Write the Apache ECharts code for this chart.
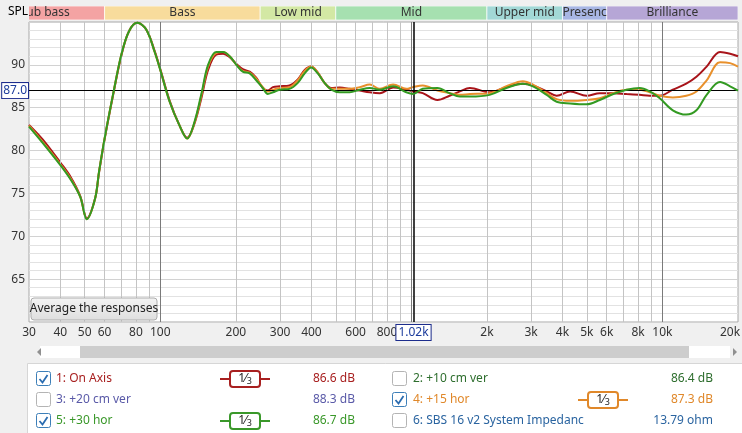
<!DOCTYPE html>
<html><head><meta charset="utf-8">
<script src="https://cdn.jsdelivr.net/npm/echarts@6/dist/echarts.min.js"></script>
<style>html,body{margin:0;padding:0;background:#f0f0f0;}#c{width:742px;height:433px;}</style>
</head><body><div id="c"></div>
<script>
// ---- data ----
const freqs = [30,34,40,44,48,51,55,57,60,65,70,75,81,88,95,100,109,119,128,137,146,155,167,178,189,201,213,227,241,256,268,281,299,327,353,376,399,424,451,480,518,568,623,683,749,846,955,1015,1110,1270,1420,1560,1710,2050,2390,2780,3050,3460,3790,4290,4990,5630,6370,7200,8120,8900,9760,11000,12440,13660,15000,16960,18600,20000];
const onAxis = [83.0,81.3,78.6,76.9,74.7,72.1,74.4,77.4,81.3,86.6,91.1,93.9,94.9,94.1,91.6,89.5,85.8,83.0,81.5,83.2,86.2,89.4,91.2,91.3,90.9,90.1,89.5,89.2,88.5,87.3,87.0,87.4,87.5,87.6,88.3,89.4,89.8,89.1,87.9,87.3,87.35,87.2,87.0,86.8,86.7,87.35,87.1,86.9,86.7,85.9,86.4,86.9,87.3,86.8,87.4,87.8,87.6,86.9,86.4,86.9,86.4,86.7,86.7,86.6,86.5,86.4,86.4,87.1,87.8,88.6,89.8,91.5,91.3,91.0];
const hor15 = [82.9,81.0,78.4,76.7,74.6,72.0,74.4,77.5,81.4,86.7,91.2,93.9,94.9,94.1,91.5,89.4,85.7,83.0,81.4,83.3,86.5,89.8,91.4,91.5,91.0,90.0,89.3,89.1,88.4,87.4,86.9,87.1,87.3,87.4,88.2,89.3,89.8,89.1,87.9,87.2,87.2,87.2,87.4,87.7,87.2,87.7,87.2,87.4,87.6,87.0,86.7,86.5,86.6,86.7,87.5,88.1,87.7,86.7,86.0,85.8,85.9,86.1,86.7,87.1,87.1,86.8,86.4,86.2,86.4,86.9,88.2,90.3,90.2,89.8];
const hor30 = [82.8,80.9,78.3,76.6,74.6,72.0,74.4,77.5,81.4,86.7,91.2,93.9,94.9,94.1,91.5,89.4,85.7,83.0,81.4,83.4,86.7,90.0,91.5,91.5,91.0,90.0,89.2,89.0,88.2,87.3,86.6,86.8,87.1,87.2,87.9,89.0,89.7,89.0,87.9,87.1,86.8,86.8,87.1,87.3,87.1,87.5,86.8,86.6,87.2,87.3,86.7,86.3,86.3,86.5,87.3,87.8,87.5,86.5,85.7,85.5,85.4,85.9,86.6,87.1,87.3,86.9,86.1,84.7,84.2,84.7,86.5,88.0,87.5,87.0];

const bandNames = ['Sub bass','Bass','Low mid','Mid','Upper mid','Presence','Brilliance'];
const bandEdges = [20,60,250,500,2000,4000,6000,20000];
const bandColors = ['#f4a3a3','#f8dc9c','#d3e8a4','#a6e0b0','#a2d8d6','#a8b6e4','#b6a6d6'];

const xGridValues = [40,50,60,70,80,90,200,300,400,500,600,700,800,900,2000,3000,4000,5000,6000,7000,8000,9000];
const xDecadeValues = [100,1000,10000];
const xLabelValues = [30,40,50,60,80,100,200,300,400,600,800,2000,3000,4000,5000,6000,8000,10000,20000];
const cursorFreq = 1020;
const cursorLevel = 87.0;

const legendNames = ['1: On Axis','2: +10 cm ver','3: +20 cm ver','4: +15 hor','5: +30 hor','6: SBS 16 v2 System Impedanc'];
const legendValues = ['86.6 dB','86.4 dB','88.3 dB','87.3 dB','86.7 dB','13.79 ohm'];
const legendChecked = [true,false,false,true,true,false];
const legendSmoothed = [true,false,false,true,true,false];
const legendColors = ['#a82020','#2e6e2e','#5a5aa8','#e0882a','#3a982a','#2a64a0'];

const lineColors = {onAxis:'#a8141a', hor15:'#e8902c', hor30:'#339a22'};
const FONT = '"Noto Sans", "Open Sans", sans-serif';

function fmtFreq(v){
  const s = v >= 1000 ? (v/1000) + 'k' : String(v);
  return v >= 20000 ? '{r|' + s + '}' : s;
}
function pairs(arr){ return freqs.map((f,i)=>[f, arr[i]]); }

const chart = echarts.init(document.getElementById('c'), null, {renderer:'canvas'});

// legend graphics
const g = [];
g.push({type:'text', left:8, top:6, style:{text:'SPL', fontSize:12, fontFamily:FONT, fill:'#000'}});
// average button
g.push({type:'rect', shape:{x:31,y:298,width:126,height:22,r:3}, style:{fill:new echarts.graphic.LinearGradient(0,0,0,1,[{offset:0,color:'#f4f4f4'},{offset:1,color:'#dedede'}]), stroke:'#adadad', lineWidth:1}, z:100});
g.push({type:'text', x:94, y:309, style:{text:'Average the responses', fontSize:12, fontFamily:FONT, fill:'#222', align:'center', verticalAlign:'middle'}, z:101});
// scrollbar
g.push({type:'rect', shape:{x:40,y:346,width:690,height:12}, style:{fill:'#ffffff'}});
g.push({type:'rect', shape:{x:80,y:346,width:609,height:12}, style:{fill:'#cdcdcd'}});
g.push({type:'polygon', shape:{points:[[37,352],[41,348],[41,356]]}, style:{fill:'#909090'}});
g.push({type:'polygon', shape:{points:[[737,352],[733,348],[733,356]]}, style:{fill:'#909090'}});
// legend panel
g.push({type:'rect', shape:{x:27.5,y:363.5,width:720,height:75}, style:{fill:'#ffffff', stroke:'#d6d6d6', lineWidth:1}});
legendNames.forEach((name,i)=>{
  const col = i % 2, row = Math.floor(i/2);
  const cy = 379 + row*21;
  const cbx = col ? 392 : 36;
  const nx = col ? 413 : 56;
  const ic = col ? 603 : 245;
  const vx = col ? 713 : 355;
  const c = legendColors[i];
  g.push({type:'rect', shape:{x:cbx+0.5,y:cy-7.5,width:14,height:14,r:2}, style:{fill:'#fff', stroke: legendChecked[i] ? '#3d7fb8' : '#b4b4b4', lineWidth:1}});
  if (legendChecked[i]) {
    g.push({type:'polyline', shape:{points:[[cbx+3.5,cy],[cbx+6.5,cy+3.5],[cbx+11.5,cy-4]]}, style:{stroke:'#2a6cb0', lineWidth:1.8, fill:null}});
  }
  g.push({type:'text', x:nx, y:cy, style:{text:name, fontSize:12, fontFamily:FONT, fill:c, verticalAlign:'middle'}});
  g.push({type:'text', x:vx, y:cy, style:{text:legendValues[i], fontSize:12, fontFamily:FONT, fill:c, align:'right', verticalAlign:'middle'}});
  if (legendSmoothed[i]) {
    g.push({type:'line', shape:{x1:ic-25,y1:cy,x2:ic+25,y2:cy}, style:{stroke:c, lineWidth:2}});
    g.push({type:'rect', shape:{x:ic-15,y:cy-8,width:30,height:16,r:3}, style:{fill:'#fff', stroke:c, lineWidth:2}});
    g.push({type:'text', x:ic, y:cy, style:{text:'1⁄{s|3}', rich:{s:{fontSize:9, fontFamily:FONT, fill:'#222', verticalAlign:'bottom', padding:[4,0,0,0]}}, fontSize:12, fontFamily:FONT, fill:'#222', align:'center', verticalAlign:'middle'}});
  }
});

const gridMarks = xGridValues.map(v=>({xAxis:v, lineStyle:{color:'#c4c4c4', width:1, type:'solid'}}))
  .concat(xDecadeValues.map(v=>({xAxis:v, lineStyle:{color:'#7a7a7a', width:1, type:'solid'}})));

const option = {
  animation:false,
  backgroundColor:'#f0f0f0',
  textStyle:{fontFamily:FONT},
  grid:[
    {left:29, right:4, top:22, bottom:111, show:true, backgroundColor:'#ffffff', borderColor:'#a8a8a8', borderWidth:1, containLabel:false, outerBoundsMode:'none'},
    {left:29, right:4, top:6, height:14, containLabel:false, outerBoundsMode:'none'}
  ],
  xAxis:[
    {type:'log', logBase:10, min:30, max:20000, gridIndex:0,
     axisLine:{show:false}, axisTick:{show:false},
     splitLine:{show:false},
     axisLabel:{customValues:xLabelValues, formatter:fmtFreq, color:'#333', fontSize:12, margin:5, fontFamily:FONT, showMinLabel:true, showMaxLabel:true, hideOverlap:false,
       rich:{r:{fontSize:12, fontFamily:FONT, color:'#333', padding:[0,16,0,0]}}}},
    {type:'log', logBase:10, min:30, max:20000, gridIndex:1, show:false}
  ],
  yAxis:[
    {type:'value', min:60, max:95, interval:5, gridIndex:0,
     axisLine:{show:false}, axisTick:{show:false},
     axisLabel:{formatter:v=> (v===60||v===95) ? '' : String(v), color:'#333', fontSize:12, margin:4, fontFamily:FONT},
     splitLine:{show:true, lineStyle:{color:'#d2d2d2'}},
     minorTick:{show:false, splitNumber:5},
     minorSplitLine:{show:true, lineStyle:{color:'#e2e2e2'}}},
    {type:'value', min:0, max:1, gridIndex:1, show:false}
  ],
  graphic:g,
  series:[
    {type:'line', name:'grid', xAxisIndex:0, yAxisIndex:0, data:[], silent:true, z:1,
     markLine:{silent:true, symbol:['none','none'], label:{show:false}, animation:false, data:gridMarks}},
    {type:'custom', name:'bands', xAxisIndex:1, yAxisIndex:1, clip:true, silent:true,
     data: bandNames.map((n,i)=>[bandEdges[i], bandEdges[i+1], i]),
     renderItem:(params, api)=>{
       const p0 = api.coord([api.value(0), 1]);
       const p1 = api.coord([api.value(1), 0]);
       const i = api.value(2);
       const w = p1[0]-p0[0];
       return {type:'rect', shape:{x:p0[0], y:p0[1], width:w, height:p1[1]-p0[1]},
         style:{fill:bandColors[i], stroke:'rgba(255,255,255,0.7)', lineWidth:1},
         textContent:{style:{text:bandNames[i], fill:'#333', fontSize:12, fontFamily:FONT, overflow:'truncate', width:w+4, ellipsis:''}},
         textConfig:{position:'inside'}};
     }},
    {type:'line', name:'1: On Axis', xAxisIndex:0, yAxisIndex:0, data:pairs(onAxis), showSymbol:false, smooth:0.35, z:3,
     lineStyle:{color:lineColors.onAxis, width:2}, itemStyle:{color:lineColors.onAxis}},
    {type:'line', name:'4: +15 hor', xAxisIndex:0, yAxisIndex:0, data:pairs(hor15), showSymbol:false, smooth:0.35, z:4,
     lineStyle:{color:lineColors.hor15, width:2}, itemStyle:{color:lineColors.hor15}},
    {type:'line', name:'5: +30 hor', xAxisIndex:0, yAxisIndex:0, data:pairs(hor30), showSymbol:false, smooth:0.35, z:5,
     lineStyle:{color:lineColors.hor30, width:2}, itemStyle:{color:lineColors.hor30}},
    {type:'line', name:'cursor', xAxisIndex:0, yAxisIndex:0, data:[], silent:true, z:6,
     markLine:{silent:true, symbol:['none','none'], animation:false,
       data:[
         {yAxis:cursorLevel, lineStyle:{color:'#000', width:1, type:'solid'},
          label:{show:true, position:'start', formatter:cursorLevel.toFixed(1), color:'#1c3c9c', fontSize:12, fontFamily:FONT, backgroundColor:'#fff', borderColor:'#1c2c8c', borderWidth:1, padding:[2,1,1,1], distance:1}},
         {xAxis:cursorFreq, lineStyle:{color:'#000', width:1.5, type:'solid'},
          label:{show:true, position:'start', formatter:(cursorFreq/1000).toFixed(2)+'k', color:'#1c3c9c', fontSize:12, fontFamily:FONT, backgroundColor:'#fff', borderColor:'#1c2c8c', borderWidth:1, padding:[2,2,1,2], distance:3}}
       ]}}
  ]
};
chart.setOption(option);
</script></body></html>
